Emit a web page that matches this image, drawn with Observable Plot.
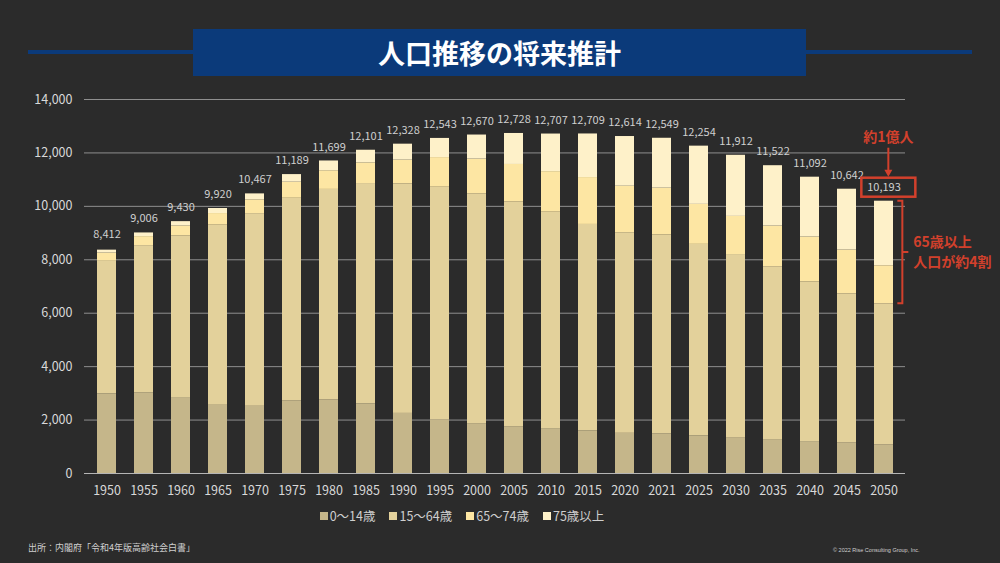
<!DOCTYPE html>
<html lang="ja">
<head>
<meta charset="utf-8">
<script src="https://cdn.jsdelivr.net/npm/d3@7"></script>
<script src="https://cdn.jsdelivr.net/npm/@observablehq/plot@0.6"></script>
<style>
  html, body { margin: 0; padding: 0; background: #2b2b2b; }
  body { width: 1000px; height: 563px; overflow: hidden; font-family: "Noto Sans CJK JP", "Noto Sans", sans-serif; }
  #wrap { position: relative; width: 1000px; height: 563px; background: #2b2b2b; }
  .bar-line { position: absolute; top: 50px; height: 4px; background: #0b3a7a; }
  #title { position: absolute; left: 193px; top: 29px; width: 613px; height: 47px; background: #0b3a7a;
           color: #fff; font-weight: 700; font-size: 27px; display: flex; align-items: center; justify-content: center; letter-spacing: 0px; }
  #chart { position: absolute; left: 0; top: 80px; }
  #legend { position: absolute; left: 0; top: 506px; width: 924px; display: flex; justify-content: center; gap: 14px;
            color: #cfcfcf; font-size: 12.5px; }
  #legend .item { display: flex; align-items: center; gap: 2px; }
  #legend .sw { width: 8px; height: 8px; display: inline-block; }
  #caption { position: absolute; left: 28px; top: 541px; font-size: 9px; color: #cfcfcf; }
  #copy { position: absolute; left: 833px; top: 547px; font-size: 5.5px; color: #cfcfcf; font-family: "Liberation Sans", Arial, sans-serif; }
</style>
</head>
<body>
<div id="wrap">
  <div class="bar-line" style="left:28px;width:166px;"></div>
  <div class="bar-line" style="left:805px;width:167px;"></div>
  <div id="title">人口推移の将来推計</div>
  <div id="chart"></div>
  <div id="legend"></div>
  <div id="caption">出所：内閣府「令和4年版高齢社会白書」</div>
  <div id="copy">© 2022 Rise Consulting Group, Inc.</div>
</div>
<script>
// ---- data (万人) ----
const years = ["1950","1955","1960","1965","1970","1975","1980","1985","1990","1995","2000","2005","2010","2015","2020","2021","2025","2030","2035","2040","2045","2050"];
const age0_14  = [2979,3012,2843,2553,2515,2722,2751,2603,2249,2001,1847,1752,1680,1595,1503,1478,1407,1321,1246,1194,1138,1077];
const age15_64 = [4966,5517,6047,6744,7212,7581,7883,8251,8590,8716,8622,8409,8103,7728,7509,7450,7170,6875,6494,5978,5584,5275];
const age65_74 = [309,338,375,434,516,602,699,773,892,1109,1301,1407,1517,1755,1742,1754,1497,1428,1522,1681,1643,1424];
const age75    = [107,138,163,189,224,284,366,474,597,717,900,1160,1407,1632,1860,1867,2180,2288,2260,2239,2277,2417];
const totals   = [8412,9006,9430,9920,10467,11189,11699,12101,12328,12543,12670,12728,12707,12709,12614,12549,12254,11912,11522,11092,10642,10193];
const groups   = ["0～14歳","15～64歳","65～74歳","75歳以上"];
const colors   = ["#c5b68a","#e3d19b","#fde6a3","#fef1c9"];
const yTicks   = [0,2000,4000,6000,8000,10000,12000,14000];

const series = [age0_14, age15_64, age65_74, age75];
const rows = [];
years.forEach((y, i) => series.forEach((s, g) => rows.push({year: y, group: groups[g], value: s[i]})));
const labels = years.map((y, i) => ({year: y, total: totals[i]}));
const fmt = d3.format(",");

const chart = Plot.plot({
  width: 1000,
  height: 425,
  marginLeft: 84,
  marginRight: 95,
  marginTop: 19,
  marginBottom: 32,
  style: {background: "transparent", color: "#d9d9d9", fontFamily: "'Noto Sans CJK JP', 'Noto Sans', sans-serif", fontSize: "12.5px"},
  x: {type: "band", domain: years, paddingInner: 0.5, paddingOuter: 0.25, label: null},
  y: {domain: [0, 14000], label: null},
  color: {domain: groups, range: colors},
  marks: [
    Plot.ruleY(yTicks.filter(d => d > 0), {stroke: "#8f8f8f", strokeWidth: 1}),
    Plot.barY(rows, {x: "year", y: "value", fill: "group", order: groups}),
    Plot.ruleY([0], {stroke: "#b5b5b5", strokeWidth: 1}),
    Plot.axisY(yTicks, {tickSize: 0, tickPadding: 12, tickFormat: d => fmt(d), label: null, fontSize: 12.5}),
    Plot.axisX({tickSize: 0, tickPadding: 13, label: null, fontSize: 12.5}),
    Plot.text(labels, {x: "year", y: "total", text: d => fmt(d.total), dy: -14, fontSize: 11, fill: "#d0d0d0"})
  ]
});
document.getElementById("chart").appendChild(chart);

// ---- annotations, positioned through the plot's scales ----
const xs = chart.scale("x"), ys = chart.scale("y");
const X = d3.scaleBand(xs.domain, xs.range).paddingInner(xs.paddingInner).paddingOuter(xs.paddingOuter).align(xs.align ?? 0.5);
const Y = d3.scaleLinear(ys.domain, ys.range);
const last = years.length - 1;
const red = "#d2402c";
const cx = X(years[last]) + X.bandwidth() / 2 + 2;
const yTot = Y(totals[last]);
const yWork = Y(age0_14[last] + age15_64[last]);
const g = d3.select(chart).append("g").attr("font-family", "'Noto Sans CJK JP', sans-serif");
// box around last total
g.append("rect").attr("x", cx - 27).attr("y", yTot - 23).attr("width", 54).attr("height", 19)
  .attr("fill", "none").attr("stroke", red).attr("stroke-width", 2.5);
// arrow
g.append("line").attr("x1", cx).attr("x2", cx).attr("y1", yTot - 53).attr("y2", yTot - 30)
  .attr("stroke", red).attr("stroke-width", 2);
g.append("path").attr("d", `M${cx - 4},${yTot - 31} L${cx + 4},${yTot - 31} L${cx},${yTot - 24} Z`).attr("fill", red);
g.append("text").attr("x", cx).attr("y", yTot - 64).attr("dy", "0.35em").attr("text-anchor", "middle")
  .attr("fill", red).attr("font-weight", 700).attr("font-size", 14).text("約1億人");
// bracket for 65+
const bx = cx + 14;
const ym = (yTot + yWork) / 2;
g.append("path").attr("d", `M${bx - 5},${yTot} H${bx} V${yWork} H${bx - 5} M${bx},${ym} H${bx + 6}`)
  .attr("fill", "none").attr("stroke", red).attr("stroke-width", 2);
g.append("text").attr("x", bx + 11).attr("y", ym - 10).attr("dy", "0.35em").attr("text-anchor", "start").attr("fill", red)
  .attr("font-weight", 700).attr("font-size", 14).text("65歳以上");
g.append("text").attr("x", bx + 11).attr("y", ym + 10).attr("dy", "0.35em").attr("text-anchor", "start").attr("fill", red)
  .attr("font-weight", 700).attr("font-size", 14).text("人口が約4割");

// ---- legend ----
const legend = document.getElementById("legend");
groups.forEach((name, i) => {
  const item = document.createElement("span");
  item.className = "item";
  item.innerHTML = `<span class="sw" style="background:${colors[i]}"></span><span>${name}</span>`;
  legend.appendChild(item);
});
</script>
</body>
</html>
